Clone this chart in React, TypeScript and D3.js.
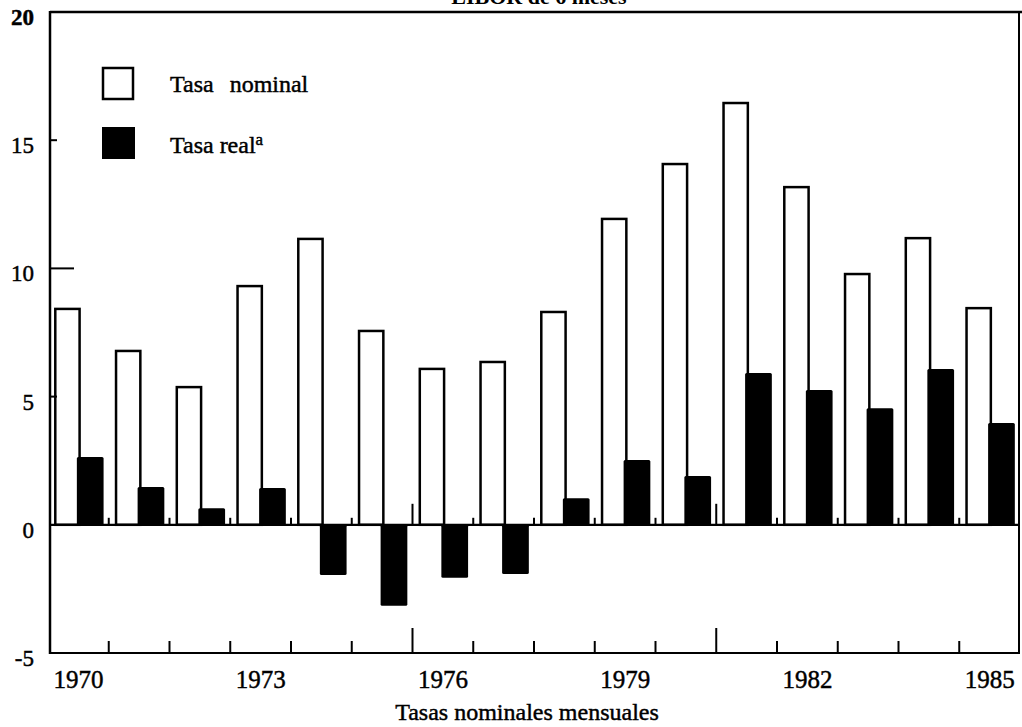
import React from "react";
import * as d3 from "d3";

const years = [1970, 1971, 1972, 1973, 1974, 1975, 1976, 1977, 1978, 1979, 1980, 1981, 1982, 1983, 1984, 1985];
const nominalRate = [8.42, 6.78, 5.37, 9.31, 11.15, 7.56, 6.08, 6.35, 8.3, 11.93, 14.07, 16.45, 13.17, 9.78, 11.18, 8.45];
const realRate = [2.64, 1.47, 0.65, 1.44, -1.96, -3.16, -2.07, -1.92, 1.04, 2.53, 1.9, 5.92, 5.26, 4.55, 6.08, 3.97];
const yTicks = [20, 15, 10, 5, 0, -5];
const yearLabels = [1970, 1973, 1976, 1979, 1982, 1985];
const longTickYears = [1976, 1981];
const title = "LIBOR de 6 meses";
const xTitle = "Tasas nominales mensuales";
const legendNominal = "Tasa nominal";
const legendReal = "Tasa real";

const W = 1022;
const H = 727;
const left = 50;
const right = 1019;
const top = 12;
const bottom = 653;
const serif = "Liberation Serif";

export default function App() {
  const x = d3.scaleBand<number>().domain(years).range([48, 1020]).padding(0);
  const y = d3.scaleLinear().domain([-5, 20]).range([bottom, top]);
  const bw = x.bandwidth();
  const y0 = y(0);

  const boundaries = years.slice(1).map((yr) => ({ yr, px: x(yr)! }));
  const ts: React.CSSProperties = { fontFamily: serif };
  const heavy = { stroke: "#000", strokeWidth: 0.45 };

  return (
    <svg
      width={W}
      height={H}
      style={{ position: "absolute", left: 0, top: 0, background: "#fff", fontFamily: serif }}
    >
      <rect width={W} height={H} fill="#fff" />
      {/* clipped title (cut off at the top edge as in the reference) */}
      <text x={539} y={4} textAnchor="middle" fontSize={22} fontWeight="bold" fill="#000" style={ts}>
        {title}
      </text>

      {/* bars */}
      {years.map((yr, i) => {
        const bx = x(yr)!;
        const nTop = y(nominalRate[i]);
        const r = realRate[i];
        const rTop = r >= 0 ? y(r) : y0;
        const rH = Math.abs(y(r) - y0);
        return (
          <g key={yr}>
            <rect
              x={bx + bw * 0.12}
              y={nTop}
              width={bw * 0.4}
              height={y0 - nTop}
              fill="#fff"
              stroke="#000"
              strokeWidth={2.5}
            />
            <rect
              x={bx + bw * 0.475}
              y={rTop}
              width={bw * 0.44}
              height={rH}
              fill="#000"
              rx={1.5}
            />
          </g>
        );
      })}

      {/* zero line and its ticks */}
      <line x1={left} x2={right} y1={y0} y2={y0} stroke="#000" strokeWidth={2.2} />
      {boundaries.map((b) => (
        <line
          key={"z" + b.yr}
          x1={b.px}
          x2={b.px}
          y1={y0}
          y2={y0 - (longTickYears.includes(b.yr) ? 21 : 7)}
          stroke="#000"
          strokeWidth={2}
        />
      ))}

      {/* frame */}
      <line x1={left} x2={W} y1={top} y2={top} stroke="#000" strokeWidth={2.5} />
      <line x1={left} x2={left} y1={top - 1} y2={bottom + 1} stroke="#000" strokeWidth={2.5} />
      <line x1={left} x2={right} y1={bottom} y2={bottom} stroke="#000" strokeWidth={2.2} />
      <line x1={right} x2={right} y1={top} y2={bottom + 1} stroke="#000" strokeWidth={2} />

      {/* bottom axis ticks */}
      {boundaries.map((b) => (
        <line
          key={"b" + b.yr}
          x1={b.px}
          x2={b.px}
          y1={bottom}
          y2={bottom - (longTickYears.includes(b.yr) ? 25 : 12)}
          stroke="#000"
          strokeWidth={2}
        />
      ))}

      {/* y ticks */}
      {yTicks
        .filter((t) => t !== 20 && t !== 0 && t !== -5)
        .map((t) => (
          <line
            key={"yt" + t}
            x1={left}
            x2={left + (t === 10 ? 24 : 7)}
            y1={y(t)}
            y2={y(t)}
            stroke="#000"
            strokeWidth={2}
          />
        ))}

      {/* y labels */}
      {yTicks.map((t) => (
        <text
          key={"yl" + t}
          x={34}
          y={y(t) + 5}
          dy="0.35em"
          textAnchor="end"
          fontSize={23}
          fontWeight={t === 20 ? "bold" : "normal"}
          fill="#000"
          style={ts}
          {...heavy}
        >
          {t}
        </text>
      ))}

      {/* year labels */}
      {yearLabels.map((yr) => (
        <text
          key={"xl" + yr}
          x={x(yr)! + bw / 2}
          y={688}
          textAnchor="middle"
          fontSize={25}
          fill="#000"
          style={ts}
          {...heavy}
        >
          {yr}
        </text>
      ))}

      <text x={527} y={720} textAnchor="middle" fontSize={24} fill="#000" style={ts} {...heavy}>
        {xTitle}
      </text>

      {/* legend */}
      <rect x={103} y={68} width={30} height={31} fill="#fff" stroke="#000" strokeWidth={2.5} />
      <text x={170} y={92} fontSize={24} wordSpacing={10} fill="#000" style={ts} {...heavy}>
        {legendNominal}
      </text>
      <rect x={102} y={127} width={33} height={32} fill="#000" />
      <text x={170} y={153} fontSize={24} fill="#000" style={ts} {...heavy}>
        {legendReal}
        <tspan fontSize={17} dy={-8}>a</tspan>
      </text>
    </svg>
  );
}
